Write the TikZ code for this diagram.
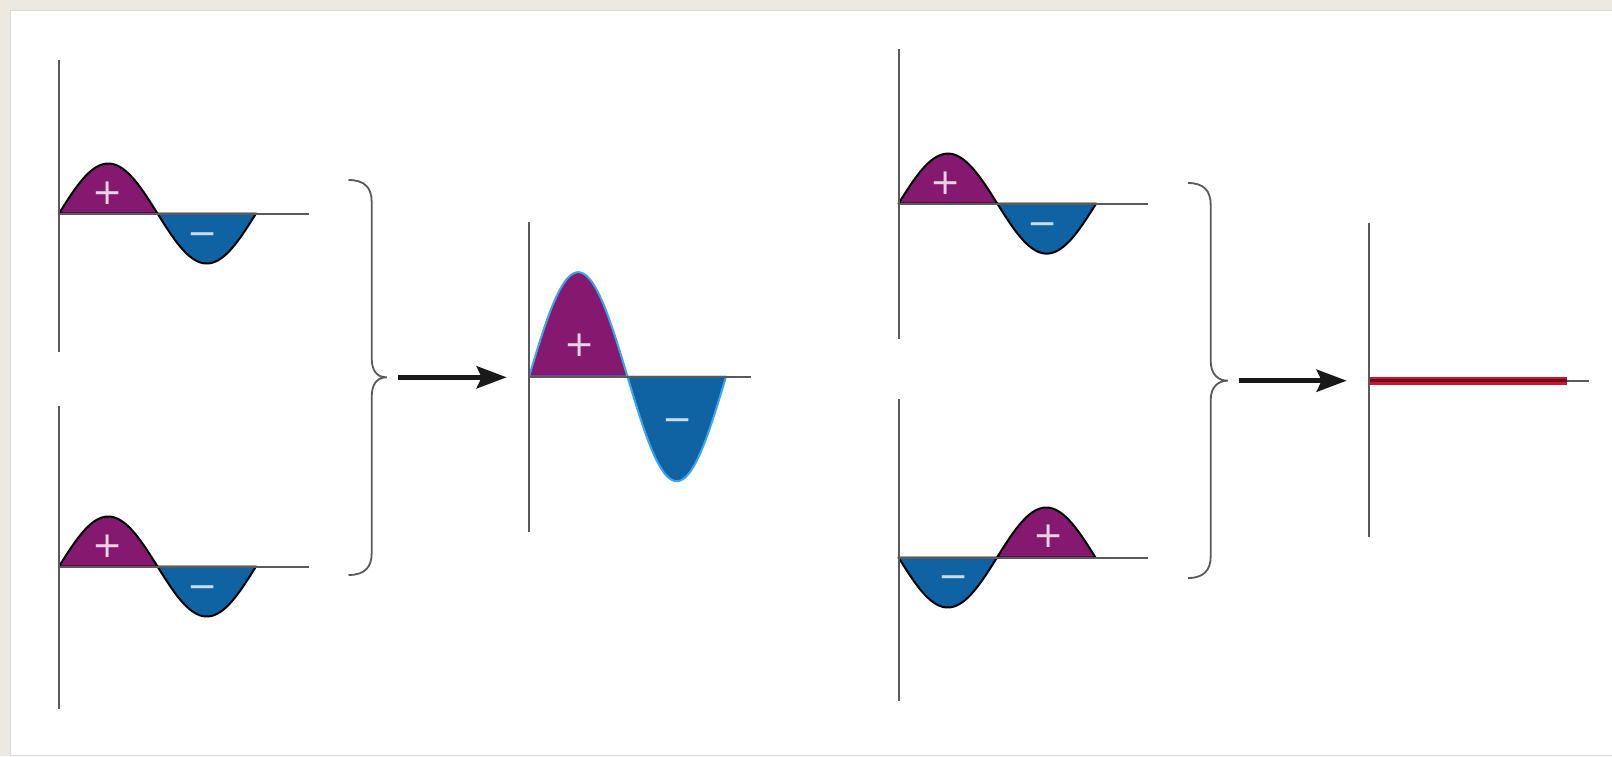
\documentclass[tikz,border=0pt]{standalone}
\usepackage{fontspec}
\newfontfamily\signfont{DejaVu Sans}
\usetikzlibrary{arrows.meta}
\definecolor{bgbeige}{HTML}{ECE9E2}
\definecolor{lobepurple}{HTML}{85196F}
\definecolor{lobeblue}{HTML}{0F63A2}
\definecolor{axisgray}{HTML}{5A5A5A}
\definecolor{edgeblue}{HTML}{3BA6EE}
\definecolor{plusfg}{HTML}{EAD2E6}
\definecolor{minusfg}{HTML}{C8DCEC}
\definecolor{zeroRed}{HTML}{D2132F}
\definecolor{zeroCore}{HTML}{6A0E1A}
\newcommand\sinelobe[6]{%
  \filldraw[fill=#5,draw=#6,line width=1pt,line join=round] (#1,#2) -- plot[domain=0:#4,samples=60] ({#1+\x},{#2-(#3)*sin((\x/#4)*180)}) -- cycle;}
\tikzset{
  axisline/.style={draw=axisgray,line width=1pt},
  bracecurve/.style={draw=axisgray,line width=0.9pt},
  flowarrow/.style={draw=black!90,line width=2.5pt,-{Stealth[length=15pt,width=11pt,inset=2.5pt]}},
  plussign/.style={text=plusfg,font=\signfont\fontsize{18}{18}\selectfont,inner sep=0pt},
  minussign/.style={text=minusfg,font=\signfont\fontsize{18}{18}\selectfont,inner sep=0pt},
}
\begin{document}
\begin{tikzpicture}[x=0.5pt,y=-0.5pt]
\useasboundingbox (0,0) rectangle (1612,756);
\fill[bgbeige] (0,0) rectangle (1612,756);
\filldraw[fill=white,draw=black!15,line width=0.5pt] (10,10) rectangle (1613,755);

% Panel 1
\sinelobe{59}{213.5}{50}{98.5}{lobepurple}{black}
\sinelobe{157.5}{213.5}{-50}{98.5}{lobeblue}{black}
\draw[axisline] (59,59.6) -- (59,351.6);
\draw[axisline] (59,213.5) -- (309,213.5);
\node[plussign] (p1plus) at (107.5,193) {\vphantom{+}+};
\node[minussign] (p1minus) at (202.5,234.5) {\vphantom{+}−};

% Panel 2
\sinelobe{59}{566.5}{50}{98.5}{lobepurple}{black}
\sinelobe{157.5}{566.5}{-50}{98.5}{lobeblue}{black}
\draw[axisline] (59,406) -- (59,709.4);
\draw[axisline] (59,566.5) -- (309,566.5);
\node[plussign] (p2plus) at (107.5,546) {\vphantom{+}+};
\node[minussign] (p2minus) at (202.5,587) {\vphantom{+}−};

% Brace 1
\draw[bracecurve] (348.5,180) .. controls (365,180) and (371.7,188) .. (371.7,202)
  -- (371.7,358) .. controls (371.7,371) and (377,377.3) .. (386.7,377.3)
  .. controls (377,377.3) and (371.7,384) .. (371.7,397)
  -- (371.7,553) .. controls (371.7,567) and (365,575) .. (348.5,575);

% Arrow 1
\coordinate (a1s) at (398.3,377.3);
\coordinate (a1e) at (506.7,377.3);
\draw[flowarrow] (a1s) -- (a1e);

% Panel 3
\sinelobe{529}{376.7}{104.5}{98.5}{lobepurple}{edgeblue}
\sinelobe{627.5}{376.7}{-104.5}{98.5}{lobeblue}{edgeblue}
\draw[axisline] (529,221.7) -- (529,531.7);
\draw[axisline] (529,376.7) -- (750.7,376.7);
\node[plussign] (p3plus) at (579.3,345.7) {\vphantom{+}+};
\node[minussign] (p3minus) at (677.7,420.7) {\vphantom{+}−};

% Panel 4
\sinelobe{898.5}{203.6}{50}{98.8}{lobepurple}{black}
\sinelobe{997.3}{203.6}{-50}{98.8}{lobeblue}{black}
\draw[axisline] (898.5,49.3) -- (898.5,339.3);
\draw[axisline] (898.5,203.6) -- (1148.4,203.6);
\node[plussign] (p4plus) at (945.9,183) {\vphantom{+}+};
\node[minussign] (p4minus) at (1042.5,224.1) {\vphantom{+}−};

% Panel 5
\sinelobe{898.5}{557.5}{-50}{98.5}{lobeblue}{black}
\sinelobe{997}{557.5}{50}{98.5}{lobepurple}{black}
\draw[axisline] (898.5,398.9) -- (898.5,701.2);
\draw[axisline] (898.5,557.5) -- (1148.4,557.5);
\node[minussign] (p5minus) at (953.3,577.5) {\vphantom{+}−};
\node[plussign] (p5plus) at (1048.3,536) {\vphantom{+}+};

% Brace 2
\draw[bracecurve] (1188,183) .. controls (1204,183) and (1210.7,191) .. (1210.7,205)
  -- (1210.7,361) .. controls (1210.7,374) and (1218,380.7) .. (1227.7,380.7)
  .. controls (1218,380.7) and (1210.7,387) .. (1210.7,400)
  -- (1210.7,556) .. controls (1210.7,570) and (1204,578) .. (1188,578);

% Arrow 2
\coordinate (a2s) at (1239.3,380.7);
\coordinate (a2e) at (1346.7,380.7);
\draw[flowarrow] (a2s) -- (a2e);

% Panel 6
\draw[axisline] (1369,222.7) -- (1369,537.3);
\draw[axisline] (1369,380.7) -- (1589.3,380.7);
\draw[zeroRed,line width=4pt] (1370,380.7) -- (1566.7,380.7);
\draw[zeroCore,line width=1.6pt] (1370,380.7) -- (1566.7,380.7);
\end{tikzpicture}
\end{document}
